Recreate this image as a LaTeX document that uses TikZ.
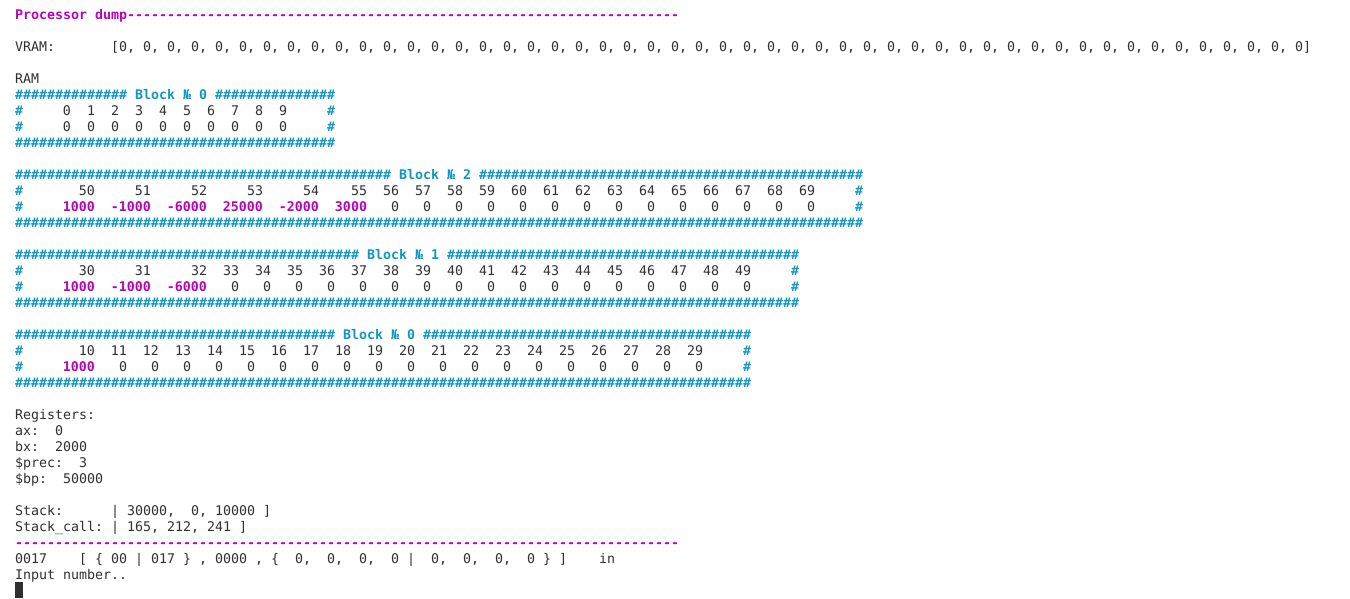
\documentclass[tikz,border=0pt]{standalone}
\usepackage{fontspec}
\setmonofont{DejaVu Sans Mono}

\definecolor{termtext}{RGB}{48,48,48}
\definecolor{termmag}{RGB}{190,0,190}
\definecolor{termcyan}{RGB}{12,152,196}
\newcommand{\termfont}{\ttfamily\fontsize{13.29bp}{16bp}\selectfont}
\newcommand{\hashes}[1]{\foreach\rep in {1,...,#1}{\#}}
\newcommand{\dashes}[1]{\foreach\rep in {1,...,#1}{-}}
\tikzset{every node/.style={anchor=base west, inner sep=0pt, outer sep=0pt, text=termtext, font=\termfont},
  frame/.style={text=termcyan, font=\termfont\bfseries},
  hot/.style={text=termmag, font=\termfont\bfseries},
  cell/.style={anchor=base east}}

\begin{document}
\begin{tikzpicture}[x=8bp,y=-16bp]
\fill[white] (-1.875,-1.1875) rectangle (166.875,36.25);
\useasboundingbox (-1.875,-1.1875) rectangle (166.875,36.25);

\node[hot] (title) at (0,0) {Processor dump\dashes{69}};
\node (vram) at (0,2) {VRAM:};
\node (vramval) at (12,2) {[\foreach\rep in {1,...,49}{0,\ }0]};
\node (ram) at (0,4) {RAM};

% block 0, cells 0..9
\node[frame] (bA) at (0,5) {\hashes{14} Block № 0 \hashes{15}};
\node[frame] (bAl1) at (0,6) {\#};
\node[frame] (bAr1) at (39,6) {\#};
\node[frame] (bAl2) at (0,7) {\#};
\node[frame] (bAr2) at (39,7) {\#};
\foreach \i in {0,...,9} {
  \node[cell] (iA-\i) at ({7+3*\i},6) {\i};
  \node[cell] (vA-\i) at ({7+3*\i},7) {0};
}
\node[frame] (bAend) at (0,8) {\hashes{40}};

% block 2, cells 50..69
\node[frame] (bC) at (0,10) {\hashes{47} Block № 2 \hashes{48}};
\node[frame] (bCl1) at (0,11) {\#};
\node[frame] (bCr1) at (105,11) {\#};
\node[frame] (bCl2) at (0,12) {\#};
\node[frame] (bCr2) at (105,12) {\#};
\foreach \i/\v/\c in {50/1000/10,51/-1000/17,52/-6000/24,53/25000/31,54/-2000/38,55/3000/44} {
  \node[cell] (iC-\i) at (\c,11) {\i};
  \node[cell,hot] (vC-\i) at (\c,12) {\v};
}
\foreach \i in {56,...,69} {
  \node[cell] (iC-\i) at ({48+4*(\i-56)},11) {\i};
  \node[cell] (vC-\i) at ({48+4*(\i-56)},12) {0};
}
\node[frame] (bCend) at (0,13) {\hashes{106}};

% block 1, cells 30..49
\node[frame] (bB) at (0,15) {\hashes{43} Block № 1 \hashes{44}};
\node[frame] (bBl1) at (0,16) {\#};
\node[frame] (bBr1) at (97,16) {\#};
\node[frame] (bBl2) at (0,17) {\#};
\node[frame] (bBr2) at (97,17) {\#};
\foreach \i/\v/\c in {30/1000/10,31/-1000/17,32/-6000/24} {
  \node[cell] (iB-\i) at (\c,16) {\i};
  \node[cell,hot] (vB-\i) at (\c,17) {\v};
}
\foreach \i in {33,...,49} {
  \node[cell] (iB-\i) at ({28+4*(\i-33)},16) {\i};
  \node[cell] (vB-\i) at ({28+4*(\i-33)},17) {0};
}
\node[frame] (bBend) at (0,18) {\hashes{98}};

% block 0 again, cells 10..29
\node[frame] (bD) at (0,20) {\hashes{40} Block № 0 \hashes{41}};
\node[frame] (bDl1) at (0,21) {\#};
\node[frame] (bDr1) at (91,21) {\#};
\node[frame] (bDl2) at (0,22) {\#};
\node[frame] (bDr2) at (91,22) {\#};
\node[cell] (iD-10) at (10,21) {10};
\node[cell,hot] (vD-10) at (10,22) {1000};
\foreach \i in {11,...,29} {
  \node[cell] (iD-\i) at ({14+4*(\i-11)},21) {\i};
  \node[cell] (vD-\i) at ({14+4*(\i-11)},22) {0};
}
\node[frame] (bDend) at (0,23) {\hashes{92}};

\node (regs) at (0,25) {Registers:};
\node (ax) at (0,26) {ax:~~0};
\node (bx) at (0,27) {bx:~~2000};
\node (prec) at (0,28) {\$prec:~~3};
\node (bp) at (0,29) {\$bp:~~50000};

\node (stack) at (0,31) {Stack:};
\node (stackval) at (12,31) {| 30000,~~0, 10000 ]};
\node (call) at (0,32) {Stack\_call:};
\node (callval) at (12,32) {| 165, 212, 241 ]};
\node[hot] (rule) at (0,33) {\dashes{83}};
\node (ip) at (0,34) {0017};
\node (cmd) at (8,34) {[ \{ 00 | 017 \} , 0000 , \{~~0,~~0,~~0,~~0 |~~0,~~0,~~0,~~0 \} ]};
\node (mode) at (73,34) {in};
\node (prompt) at (0,35) {Input number..};
\fill[termtext] (0,35.1875) rectangle (1,36.1875);
\end{tikzpicture}
\end{document}
